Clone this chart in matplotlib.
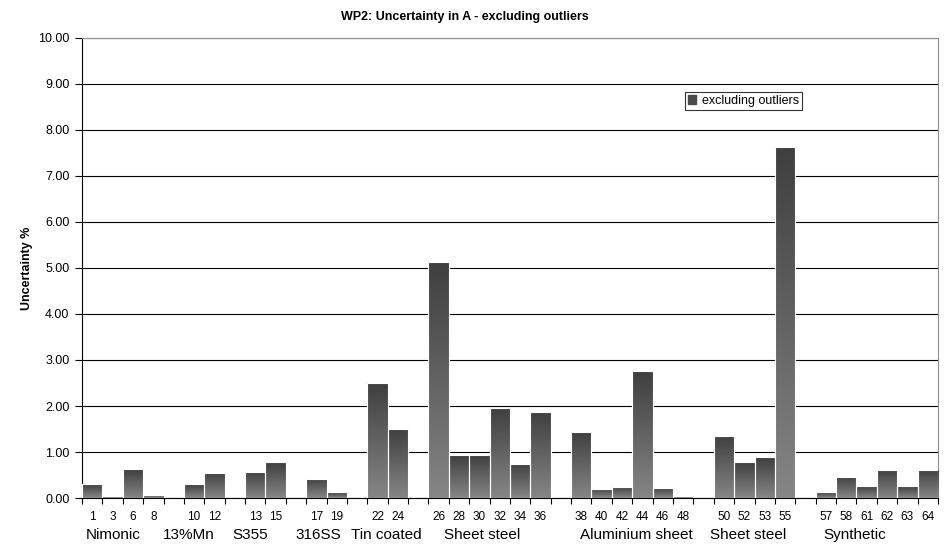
import matplotlib
matplotlib.use("Agg")
import matplotlib.pyplot as plt
import numpy as np
from matplotlib.colors import LinearSegmentedColormap
from matplotlib.patches import Patch

plt.rcParams['font.family'] = ['Liberation Sans', 'DejaVu Sans']

# None marks an empty separator slot between material groups
labels = ["1", "3", "6", "8", None, "10", "12", None, "13", "15", None, "17", "19", None,
          "22", "24", None, "26", "28", "30", "32", "34", "36", None,
          "38", "40", "42", "44", "46", "48", None, "50", "52", "53", "55", None,
          "57", "58", "61", "62", "63", "64"]
values = [0.30, 0.05, 0.62, 0.07, None, 0.30, 0.55, None, 0.57, 0.78, None, 0.42, 0.13, None,
          2.50, 1.50, None, 5.12, 0.93, 0.93, 1.96, 0.74, 1.87, None,
          1.44, 0.20, 0.24, 2.76, 0.22, 0.05, None, 1.35, 0.78, 0.89, 7.62, None,
          0.13, 0.46, 0.26, 0.61, 0.26, 0.61]
groups = ["Nimonic", "13%Mn", "S355", "316SS", "Tin coated", "Sheet steel",
          "Aluminium sheet", "Sheet steel", "Synthetic"]
group_x = [1.05, 4.72, 7.74, 11.1, 14.42, 19.15, 26.7, 32.2, 37.4]

fig = plt.figure(figsize=(9.5, 5.56), dpi=100)
ax = fig.add_axes([0.0863, 0.1043, 0.9010, 0.8274])

n = len(labels)
cmap = LinearSegmentedColormap.from_list("g", ["#3f3f3f", "#868686"])
grad = np.linspace(0, 1, 256).reshape(-1, 1)

for i, v in enumerate(values):
    if v is None or v <= 0:
        continue
    bar = ax.bar(i, v, width=1.0, color="#5a5a5a", edgecolor="white", linewidth=0.8, zorder=3)[0]
    im = ax.imshow(grad, cmap=cmap, aspect="auto", extent=(i - 0.5, i + 0.5, 0, v),
                   origin="upper", zorder=3.5)
    im.set_clip_path(bar)
    ax.bar(i, v, width=1.0, fill=False, edgecolor="white", linewidth=0.8, zorder=4)

ax.set_xlim(-0.5, n - 0.5)
ax.set_ylim(0, 10)
ax.set_yticks(np.arange(0, 10.01, 1))
ax.set_yticklabels([f"{t:.2f}" for t in np.arange(0, 10.01, 1)], fontsize=9)
ax.yaxis.grid(True, color="black", linewidth=0.8, zorder=0)
ax.set_axisbelow(True)

# tick marks at slot boundaries, labels at slot centers
ax.set_xticks(np.arange(-0.5, n, 1.0))
ax.set_xticklabels([])
ax.tick_params(axis="x", length=4, width=0.8, direction="out")
ax.tick_params(axis="y", length=5, width=0.8, direction="out", pad=4)
for i, lab in enumerate(labels):
    if lab:
        ax.text(i, -0.41, lab, ha="center", va="center", fontsize=8.5, clip_on=False)
for g, x in zip(groups, group_x):
    ax.text(x, -0.80, g, ha="center", va="center", fontsize=11, clip_on=False)

for s in ["top", "right"]:
    ax.spines[s].set_color("#909090")
    ax.spines[s].set_linewidth(0.8)
for s in ["left", "bottom"]:
    ax.spines[s].set_color("black")
    ax.spines[s].set_linewidth(0.8)

ax.set_ylabel("Uncertainty %", fontsize=9, fontweight="bold", labelpad=4)
ax.set_title("WP2: Uncertainty in A - excluding outliers", fontsize=9, fontweight="bold",
             pad=13, x=0.447)

leg = ax.legend(handles=[Patch(facecolor="#4a4a4a", edgecolor="#4a4a4a")], labels=["excluding outliers"],
                loc="upper left", bbox_to_anchor=(0.7044, 0.8826), fontsize=9, frameon=True,
                fancybox=False, edgecolor="black", handlelength=0.6, handleheight=0.7,
                handletextpad=0.5, borderpad=0.25, borderaxespad=0)
leg.get_frame().set_linewidth(0.8)

fig.savefig("out.png", dpi=100)
